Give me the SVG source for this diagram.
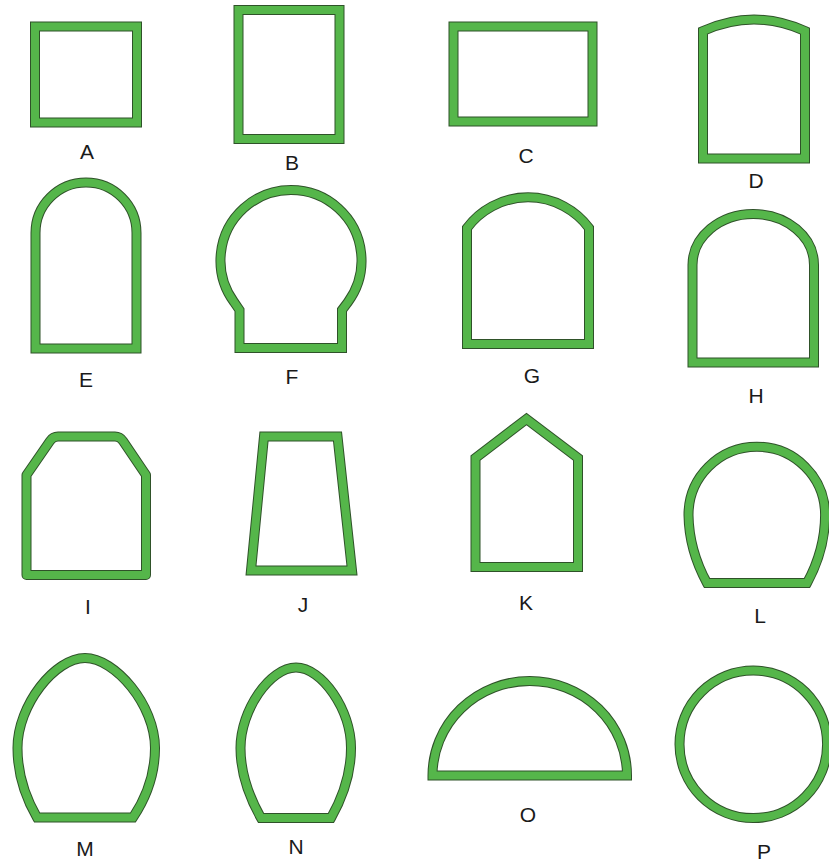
<svg xmlns="http://www.w3.org/2000/svg" width="829" height="863" viewBox="0 0 829 863">
<style>
.edge{fill:none;stroke:#2f5229;stroke-width:10;stroke-linejoin:miter}
.band{fill:none;stroke:#55b64a;stroke-width:8;stroke-linejoin:miter}
.rj .edge,.rj .band{stroke-linejoin:round}
text{font-family:"Liberation Sans",Arial,sans-serif;font-size:21px;fill:#1a1a1a;text-anchor:middle}
</style>
<defs>
<path id="pA" d="M35,26.5 H137 V122.5 H35 Z"/>
<path id="pB" d="M238.5,10 H339.5 V139 H238.5 Z"/>
<path id="pC" d="M453.5,26.5 H592.5 V121.5 H453.5 Z"/>
<path id="pD" d="M703,158.5 V31 Q754,8 805,31 V158.5 Z"/>
<path id="pE" d="M35.5,348.5 V233 A50.5,50.5 0 0 1 136.5,233 V348.5 Z"/>
<path id="pF" d="M239.5,348 V310 L234,302 A70.5,70.5 0 1 1 348,302 L342,310 V348 Z"/>
<path id="pG" d="M467,344 V228 A76,76 0 0 1 589,228 V344 Z"/>
<path id="pH" d="M692.5,362.5 V265 A60.75,51 0 0 1 814,265 V362.5 Z"/>
<path id="pI" d="M26.5,575 V475 L50,441 Q53,436.5 58,436.5 H115 Q120,436.5 123,441 L146,475 V575 Z"/>
<path id="pJ" d="M264,436.5 H337.5 L352,570.5 H251 Z"/>
<path id="pK" d="M475.5,567 V458 L526.5,419 L578,458 V567 Z"/>
<path id="pL" d="M707,583 Q689,550 688.5,515 A68.3,68.3 0 0 1 825.1,515 Q825,550 807,583 Z"/>
<path id="pM" d="M37,817.5 C24,795 17.5,772 17.5,748 C17.5,705 55,658 85,658 C115,658 155,705 155,748 C155,772 148,795 133,817.5 Z"/>
<path id="pN" d="M261,818 C248,795 240.5,772 240.5,748 C240.5,710 270,667.5 296,667.5 C322,667.5 351,710 351,748 C351,772 344,795 331,818 Z"/>
<path id="pO" d="M432.5,775.5 A97.25,94.5 0 0 1 627,775.5 Z"/>
<circle id="pP" cx="753.3" cy="744.3" r="73.8"/>
</defs>
<g id="A"><use href="#pA" class="edge"/><use href="#pA" class="band"/><text x="87" y="159">A</text></g>
<g id="B"><use href="#pB" class="edge"/><use href="#pB" class="band"/><text x="292" y="170">B</text></g>
<g id="C"><use href="#pC" class="edge"/><use href="#pC" class="band"/><text x="526" y="163">C</text></g>
<g id="D"><use href="#pD" class="edge"/><use href="#pD" class="band"/><text x="756" y="188">D</text></g>
<g id="E"><use href="#pE" class="edge"/><use href="#pE" class="band"/><text x="86" y="387">E</text></g>
<g id="F"><use href="#pF" class="edge"/><use href="#pF" class="band"/><text x="292" y="384">F</text></g>
<g id="G"><use href="#pG" class="edge"/><use href="#pG" class="band"/><text x="532" y="383">G</text></g>
<g id="H"><use href="#pH" class="edge"/><use href="#pH" class="band"/><text x="756" y="403">H</text></g>
<g id="I" class="rj"><use href="#pI" class="edge"/><use href="#pI" class="band"/><text x="88" y="614">I</text></g>
<g id="J"><use href="#pJ" class="edge"/><use href="#pJ" class="band"/><text x="303" y="612">J</text></g>
<g id="K"><use href="#pK" class="edge"/><use href="#pK" class="band"/><text x="526" y="610">K</text></g>
<g id="L"><use href="#pL" class="edge"/><use href="#pL" class="band"/><text x="760" y="623">L</text></g>
<g id="M"><use href="#pM" class="edge"/><use href="#pM" class="band"/><text x="85" y="856">M</text></g>
<g id="N"><use href="#pN" class="edge"/><use href="#pN" class="band"/><text x="296" y="854">N</text></g>
<g id="O"><use href="#pO" class="edge"/><use href="#pO" class="band"/><text x="528" y="822">O</text></g>
<g id="P"><use href="#pP" class="edge"/><use href="#pP" class="band"/><text x="764" y="859">P</text></g>
<g id="connectors"></g>
</svg>
